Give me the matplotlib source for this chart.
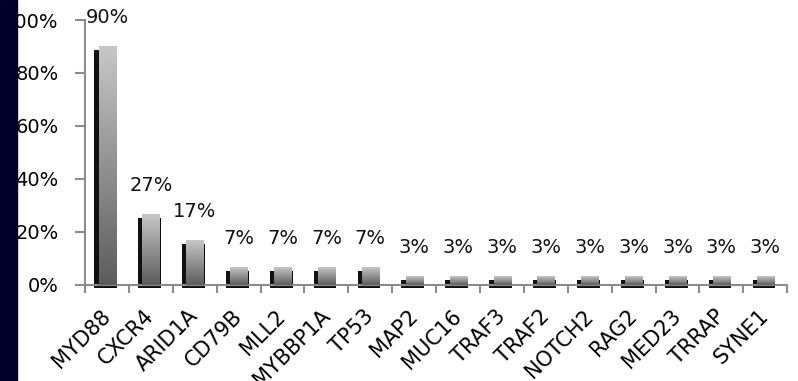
import numpy as np
import matplotlib
matplotlib.use('Agg')
import matplotlib.pyplot as plt
from matplotlib.patches import Rectangle
from matplotlib.transforms import ScaledTranslation

genes = ['MYD88', 'CXCR4', 'ARID1A', 'CD79B', 'MLL2', 'MYBBP1A', 'TP53', 'MAP2',
         'MUC16', 'TRAF3', 'TRAF2', 'NOTCH2', 'RAG2', 'MED23', 'TRRAP', 'SYNE1']
freq = [90.0, 26.7, 16.7, 6.7, 6.7, 6.7, 6.7, 3.3,
        3.3, 3.3, 3.3, 3.3, 3.3, 3.3, 3.3, 3.3]

fig = plt.figure(figsize=(7.98, 3.81), dpi=100)
ax = fig.add_axes([0.1065, 0.252, 0.88, 0.6955])

x = np.arange(len(genes))
vals = np.array(freq) / 100.0

# vertical gray gradient, light at top
grad = np.linspace(0.78, 0.36, 256).reshape(-1, 1)

for xi, v in zip(x, vals):
    # dark shadow behind the bar
    ax.bar(xi - 0.03, v - 0.002, width=0.52, bottom=-0.012, color='#111111',
           zorder=2, clip_on=False)
    # gradient face
    ax.imshow(grad, cmap='gray', vmin=0, vmax=1, aspect='auto', zorder=3,
              extent=(xi - 0.19, xi + 0.2, 0, v), interpolation='bilinear')
    ax.annotate(f'{round(v * 100)}%', (xi, v), xytext=(0, 14), textcoords='offset points',
                ha='center', va='bottom', fontsize=14, color='#111111')

ax.set_xlim(-0.5, len(genes) - 0.5)
ax.set_ylim(0, 1)
ax.set_yticks(np.arange(0, 1.01, 0.2))
ax.set_yticklabels([f'{int(t * 100)}%' for t in np.arange(0, 1.01, 0.2)], fontsize=14)
ax.set_xticks(x)
ax.set_xticklabels(genes, rotation=45, ha='right', rotation_mode='anchor', fontsize=15)
ax.set_xticks(np.arange(-0.5, len(genes)), minor=True)
ax.tick_params(axis='x', which='major', length=0, pad=15)
ax.tick_params(axis='x', which='minor', length=6, width=1.5, color='#8c8c8c', direction='out')
ax.tick_params(axis='y', length=7, width=1.5, color='#8c8c8c', direction='out', pad=12)

# nudge rotated gene names a little to the left
shift = ScaledTranslation(-5 / 72, 0, fig.dpi_scale_trans)
for lbl in ax.get_xticklabels():
    lbl.set_transform(lbl.get_transform() + shift)

for side in ['top', 'right']:
    ax.spines[side].set_visible(False)
for side in ['left', 'bottom']:
    ax.spines[side].set_color('#8c8c8c')
    ax.spines[side].set_linewidth(1.5)

# dark strip on the left edge of the slide
fig.patches.append(Rectangle((0, 0), 17 / 798, 1, transform=fig.transFigure,
                             color='#00002a', zorder=10))

fig.savefig('out.png', dpi=100)
